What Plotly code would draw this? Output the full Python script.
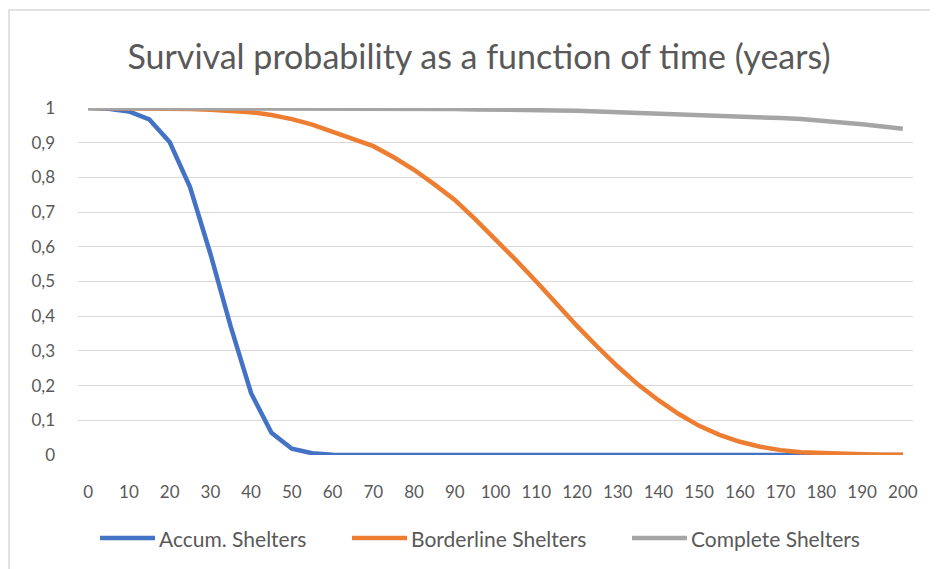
import plotly.graph_objects as go

years = list(range(0, 201, 5))
tick_years = list(range(0, 201, 10))

accum = [1.0, 0.998, 0.99, 0.967, 0.902, 0.772, 0.58, 0.37, 0.178, 0.064, 0.018,
         0.005, 0.001, 0.0, 0.0, 0.0, 0.0, 0.0, 0.0, 0.0, 0.0,
         0.0, 0.0, 0.0, 0.0, 0.0, 0.0, 0.0, 0.0, 0.0, 0.0,
         0.0, 0.0, 0.0, 0.0, 0.0, 0.0, 0.0, 0.0, 0.0, 0.0]

borderline = [1.0, 1.0, 1.0, 0.999, 0.998, 0.997, 0.995, 0.992, 0.988, 0.98, 0.968,
              0.952, 0.932, 0.912, 0.89, 0.858, 0.822, 0.78, 0.735, 0.68, 0.622,
              0.562, 0.5, 0.435, 0.372, 0.312, 0.255, 0.203, 0.158, 0.118, 0.084,
              0.058, 0.038, 0.024, 0.014, 0.008, 0.005, 0.003, 0.002, 0.001, 0.0005]

complete = [1.0, 1.0, 1.0, 1.0, 1.0, 1.0, 1.0, 1.0, 1.0, 1.0, 1.0,
            1.0, 0.999, 0.999, 0.999, 0.998, 0.998, 0.997, 0.997, 0.996, 0.996,
            0.995, 0.994, 0.993, 0.992, 0.99, 0.989, 0.987, 0.986, 0.984, 0.982,
            0.98, 0.977, 0.974, 0.971, 0.968, 0.964, 0.959, 0.953, 0.947, 0.94]

y_ticks = [0, 0.1, 0.2, 0.3, 0.4, 0.5, 0.6, 0.7, 0.8, 0.9, 1]
y_labels = ["0", "0,1", "0,2", "0,3", "0,4", "0,5", "0,6", "0,7", "0,8", "0,9", "1"]

series_names = ["Accum. Shelters", "Borderline Shelters", "Complete Shelters"]
series_values = [accum, borderline, complete]
series_colors = ["#4472C4", "#ED7D31", "#A5A5A5"]

# page body has an 8px margin, so the figure is drawn 8px in from the window edge
W, H = 930, 561
L, R, T, B = 70, 25, 100, 114
pw = W - L - R
ph = H - T - B


def px2x(px):
    return (px - L) / pw


def py2y(py):
    return (H - B - py) / ph


fig = go.Figure()
for name, vals, color in zip(series_names, series_values, series_colors):
    fig.add_trace(go.Scatter(
        x=years, y=vals, name=name, mode="lines",
        line=dict(color=color, width=4.5),
        cliponaxis=False, showlegend=False,
    ))

font = "Lato, 'Open Sans', sans-serif"
txt_color = "#595959"

shapes = [dict(
    type="rect", xref="paper", yref="paper",
    x0=px2x(1), x1=px2x(W + 5), y0=py2y(H + 5), y1=py2y(2),
    line=dict(color="#D9D9D9", width=1.5), fillcolor="rgba(0,0,0,0)",
    layer="below",
)]
annotations = []
legend_line_starts = [92, 344, 624]
legend_y = 530
for name, color, x0 in zip(series_names, series_colors, legend_line_starts):
    shapes.append(dict(
        type="line", xref="paper", yref="paper",
        x0=px2x(x0), x1=px2x(x0 + 55), y0=py2y(legend_y), y1=py2y(legend_y),
        line=dict(color=color, width=4.5),
    ))
    annotations.append(dict(
        text=name, xref="paper", yref="paper",
        x=px2x(x0 + 57), y=py2y(legend_y), xanchor="left", yanchor="middle",
        showarrow=False, font=dict(family=font, size=21, color=txt_color),
    ))

fig.update_layout(
    width=W, height=H,
    margin=dict(l=L, r=R, t=T, b=B),
    paper_bgcolor="white", plot_bgcolor="white",
    font=dict(family=font, color=txt_color, size=16),
    title=dict(
        text="Survival probability as a function of time (years)",
        x=471 / W, xanchor="center", xref="container",
        y=1 - 49 / H, yanchor="middle", yref="container",
        font=dict(family=font, size=34, color=txt_color),
    ),
    xaxis=dict(
        range=[-2.5, 202.5], tickvals=tick_years,
        ticktext=[str(v) for v in tick_years],
        showgrid=False, zeroline=False, showline=False,
        ticks="", ticklabelstandoff=25,
        tickfont=dict(size=17, color=txt_color),
        fixedrange=True,
    ),
    yaxis=dict(
        range=[0, 1], tickvals=y_ticks, ticktext=y_labels,
        showgrid=True, gridcolor="#D9D9D9", gridwidth=1.3,
        zeroline=False, showline=False, ticks="",
        ticklabelstandoff=22,
        tickfont=dict(size=17, color=txt_color),
        fixedrange=True,
    ),
    showlegend=False,
    shapes=shapes,
    annotations=annotations,
)

fig.write_html("out.html", config={"displayModeBar": False})
